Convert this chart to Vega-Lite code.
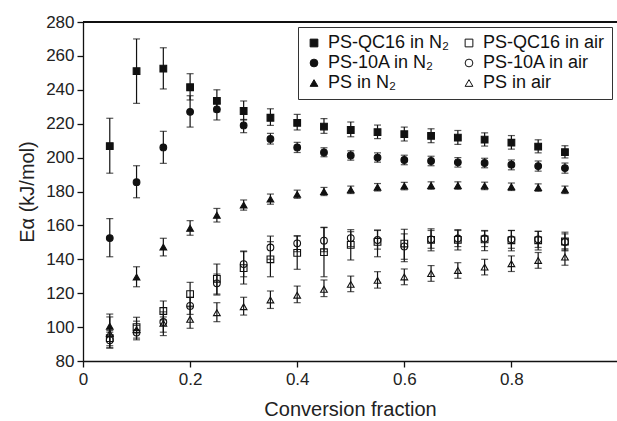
{
  "$schema": "https://vega.github.io/schema/vega-lite/v6.json",
  "width": 534,
  "height": 339,
  "autosize": {"type": "none"},
  "padding": {"left": 83, "top": 22, "right": 0, "bottom": 60},
  "background": "white",
  "config": {
    "font": "Liberation Sans",
    "view": {"stroke": null},
    "axis": {
      "domainColor": "#111", "domainWidth": 1.3, "tickColor": "#111", "tickWidth": 1.3, "tickSize": 6,
      "labelFontSize": 17, "labelColor": "#222", "titleFontSize": 20, "titleFontWeight": "normal", "titleColor": "#222", "grid": false,
      "labelOverlap": false, "labelFlush": false
    },
    "axisY": {"tickCount": 10, "labelPadding": 3, "titlePadding": 8},
    "axisX": {"tickCount": 5, "labelPadding": 4, "titlePadding": 12, "format": ".1~f"},
    "legend": {
      "labelFontSize": 18, "labelColor": "#111", "symbolSize": 60, "strokeColor": "#333", "padding": 7, "rowPadding": 2,
      "columnPadding": 10, "labelOffset": 5, "symbolStrokeWidth": 1, "gridAlign": "each"
    }
  },
  "data": {"values": [
    {"f":0.05,"s":"PS-QC16 in N₂","y":206.8,"lo":190.8,"hi":223.2},
    {"f":0.1,"s":"PS-QC16 in N₂","y":251,"lo":232,"hi":270},
    {"f":0.15,"s":"PS-QC16 in N₂","y":252.5,"lo":240.5,"hi":264.8},
    {"f":0.2,"s":"PS-QC16 in N₂","y":241.5,"lo":234,"hi":249.5},
    {"f":0.25,"s":"PS-QC16 in N₂","y":233.5,"lo":227,"hi":240},
    {"f":0.3,"s":"PS-QC16 in N₂","y":227.5,"lo":222.2,"hi":233.4},
    {"f":0.35,"s":"PS-QC16 in N₂","y":223.5,"lo":219,"hi":228.8},
    {"f":0.4,"s":"PS-QC16 in N₂","y":220.5,"lo":216.3,"hi":225.5},
    {"f":0.45,"s":"PS-QC16 in N₂","y":218.3,"lo":214.3,"hi":223},
    {"f":0.5,"s":"PS-QC16 in N₂","y":216.3,"lo":212.3,"hi":221},
    {"f":0.55,"s":"PS-QC16 in N₂","y":215,"lo":211.2,"hi":219.2},
    {"f":0.6,"s":"PS-QC16 in N₂","y":213.8,"lo":209.8,"hi":218},
    {"f":0.65,"s":"PS-QC16 in N₂","y":212.8,"lo":208.8,"hi":217},
    {"f":0.7,"s":"PS-QC16 in N₂","y":211.8,"lo":207.8,"hi":216},
    {"f":0.75,"s":"PS-QC16 in N₂","y":210.6,"lo":206.8,"hi":214.6},
    {"f":0.8,"s":"PS-QC16 in N₂","y":208.8,"lo":205,"hi":213},
    {"f":0.85,"s":"PS-QC16 in N₂","y":206.5,"lo":202.8,"hi":210.5},
    {"f":0.9,"s":"PS-QC16 in N₂","y":203.2,"lo":199.8,"hi":207},
    {"f":0.05,"s":"PS-10A in N₂","y":152.5,"lo":141.5,"hi":164},
    {"f":0.1,"s":"PS-10A in N₂","y":185.5,"lo":176.3,"hi":195.2},
    {"f":0.15,"s":"PS-10A in N₂","y":206,"lo":196.6,"hi":215.5},
    {"f":0.2,"s":"PS-10A in N₂","y":227,"lo":218,"hi":236.5},
    {"f":0.25,"s":"PS-10A in N₂","y":228.5,"lo":222.2,"hi":232},
    {"f":0.3,"s":"PS-10A in N₂","y":219,"lo":214.7,"hi":222.5},
    {"f":0.35,"s":"PS-10A in N₂","y":211,"lo":208,"hi":214.3},
    {"f":0.4,"s":"PS-10A in N₂","y":206,"lo":203,"hi":209},
    {"f":0.45,"s":"PS-10A in N₂","y":203,"lo":200.5,"hi":205.8},
    {"f":0.5,"s":"PS-10A in N₂","y":201.3,"lo":198.5,"hi":204},
    {"f":0.55,"s":"PS-10A in N₂","y":200,"lo":197.3,"hi":202.8},
    {"f":0.6,"s":"PS-10A in N₂","y":198.6,"lo":195.8,"hi":201.4},
    {"f":0.65,"s":"PS-10A in N₂","y":198,"lo":195.2,"hi":200.8},
    {"f":0.7,"s":"PS-10A in N₂","y":197.2,"lo":194.4,"hi":200},
    {"f":0.75,"s":"PS-10A in N₂","y":196.8,"lo":194,"hi":199.6},
    {"f":0.8,"s":"PS-10A in N₂","y":195.8,"lo":192.8,"hi":198.6},
    {"f":0.85,"s":"PS-10A in N₂","y":195,"lo":192,"hi":198},
    {"f":0.9,"s":"PS-10A in N₂","y":193.8,"lo":190.8,"hi":196.8},
    {"f":0.05,"s":"PS in N₂","y":100.5,"lo":95,"hi":106},
    {"f":0.1,"s":"PS in N₂","y":129.5,"lo":123.8,"hi":135.6},
    {"f":0.15,"s":"PS in N₂","y":147.2,"lo":142,"hi":152.4},
    {"f":0.2,"s":"PS in N₂","y":158.3,"lo":154.2,"hi":162.8},
    {"f":0.25,"s":"PS in N₂","y":166,"lo":162,"hi":170},
    {"f":0.3,"s":"PS in N₂","y":172,"lo":169,"hi":175},
    {"f":0.35,"s":"PS in N₂","y":175.5,"lo":172.5,"hi":178.5},
    {"f":0.4,"s":"PS in N₂","y":178.3,"lo":176,"hi":180.8},
    {"f":0.45,"s":"PS in N₂","y":180,"lo":177.6,"hi":182.4},
    {"f":0.5,"s":"PS in N₂","y":181,"lo":178.8,"hi":183.2},
    {"f":0.55,"s":"PS in N₂","y":182.5,"lo":180.3,"hi":184.7},
    {"f":0.6,"s":"PS in N₂","y":183.2,"lo":181,"hi":185.4},
    {"f":0.65,"s":"PS in N₂","y":183.5,"lo":181.3,"hi":185.7},
    {"f":0.7,"s":"PS in N₂","y":183.5,"lo":181.3,"hi":185.7},
    {"f":0.75,"s":"PS in N₂","y":183.3,"lo":181.1,"hi":185.5},
    {"f":0.8,"s":"PS in N₂","y":182.8,"lo":180.6,"hi":185},
    {"f":0.85,"s":"PS in N₂","y":182.3,"lo":180.1,"hi":184.5},
    {"f":0.9,"s":"PS in N₂","y":181,"lo":178.8,"hi":183.2},
    {"f":0.05,"s":"PS-QC16 in air","y":93.5,"lo":89,"hi":98},
    {"f":0.1,"s":"PS-QC16 in air","y":100,"lo":96.5,"hi":105.8},
    {"f":0.15,"s":"PS-QC16 in air","y":109.5,"lo":104.2,"hi":115.4},
    {"f":0.2,"s":"PS-QC16 in air","y":119.5,"lo":112,"hi":126.4},
    {"f":0.25,"s":"PS-QC16 in air","y":128.5,"lo":119.5,"hi":137.2},
    {"f":0.3,"s":"PS-QC16 in air","y":134.8,"lo":125.4,"hi":144.9},
    {"f":0.35,"s":"PS-QC16 in air","y":140,"lo":129.7,"hi":150.4},
    {"f":0.4,"s":"PS-QC16 in air","y":143.8,"lo":134.1,"hi":153.7},
    {"f":0.45,"s":"PS-QC16 in air","y":144.2,"lo":129.7,"hi":158.9},
    {"f":0.5,"s":"PS-QC16 in air","y":148.5,"lo":139.6,"hi":156.3},
    {"f":0.55,"s":"PS-QC16 in air","y":150.3,"lo":141.5,"hi":157.3},
    {"f":0.6,"s":"PS-QC16 in air","y":149.3,"lo":138.6,"hi":157.7},
    {"f":0.65,"s":"PS-QC16 in air","y":151.5,"lo":145,"hi":158},
    {"f":0.7,"s":"PS-QC16 in air","y":151.5,"lo":145.5,"hi":157.5},
    {"f":0.75,"s":"PS-QC16 in air","y":151.7,"lo":145.1,"hi":156.7},
    {"f":0.8,"s":"PS-QC16 in air","y":151.2,"lo":145,"hi":157},
    {"f":0.85,"s":"PS-QC16 in air","y":151.2,"lo":145.5,"hi":156.5},
    {"f":0.9,"s":"PS-QC16 in air","y":150.5,"lo":145,"hi":156},
    {"f":0.05,"s":"PS-10A in air","y":92.3,"lo":87.7,"hi":97},
    {"f":0.1,"s":"PS-10A in air","y":96.8,"lo":92.5,"hi":101},
    {"f":0.15,"s":"PS-10A in air","y":103,"lo":97,"hi":109},
    {"f":0.2,"s":"PS-10A in air","y":112.5,"lo":107.5,"hi":117.5},
    {"f":0.25,"s":"PS-10A in air","y":125.8,"lo":118.9,"hi":131.3},
    {"f":0.3,"s":"PS-10A in air","y":137.2,"lo":129.7,"hi":144.5},
    {"f":0.35,"s":"PS-10A in air","y":147,"lo":140,"hi":153.7},
    {"f":0.4,"s":"PS-10A in air","y":149.4,"lo":144.5,"hi":153.9},
    {"f":0.45,"s":"PS-10A in air","y":151,"lo":144.5,"hi":158.7},
    {"f":0.5,"s":"PS-10A in air","y":152.5,"lo":147.5,"hi":157.5},
    {"f":0.55,"s":"PS-10A in air","y":151.4,"lo":146,"hi":157},
    {"f":0.6,"s":"PS-10A in air","y":147.6,"lo":140,"hi":155},
    {"f":0.65,"s":"PS-10A in air","y":151.8,"lo":146.5,"hi":157},
    {"f":0.7,"s":"PS-10A in air","y":152.3,"lo":147.5,"hi":157},
    {"f":0.75,"s":"PS-10A in air","y":152.3,"lo":147.5,"hi":157},
    {"f":0.8,"s":"PS-10A in air","y":151.8,"lo":146.5,"hi":157},
    {"f":0.85,"s":"PS-10A in air","y":151.8,"lo":147,"hi":156.5},
    {"f":0.9,"s":"PS-10A in air","y":150.2,"lo":145.5,"hi":155},
    {"f":0.05,"s":"PS in air","y":96.2,"lo":87.7,"hi":107.7},
    {"f":0.1,"s":"PS in air","y":98.5,"lo":93.5,"hi":103.5},
    {"f":0.15,"s":"PS in air","y":102.2,"lo":95,"hi":106},
    {"f":0.2,"s":"PS in air","y":104.6,"lo":99.3,"hi":112.4},
    {"f":0.25,"s":"PS in air","y":108.5,"lo":103.2,"hi":114.4},
    {"f":0.3,"s":"PS in air","y":112,"lo":107.1,"hi":117.6},
    {"f":0.35,"s":"PS in air","y":116,"lo":111,"hi":121.3},
    {"f":0.4,"s":"PS in air","y":118.8,"lo":114.4,"hi":124.2},
    {"f":0.45,"s":"PS in air","y":122.3,"lo":118,"hi":127.8},
    {"f":0.5,"s":"PS in air","y":125.2,"lo":120.9,"hi":130.1},
    {"f":0.55,"s":"PS in air","y":127.6,"lo":123,"hi":132.7},
    {"f":0.6,"s":"PS in air","y":129.6,"lo":125,"hi":134.3},
    {"f":0.65,"s":"PS in air","y":131.6,"lo":127,"hi":136.3},
    {"f":0.7,"s":"PS in air","y":133.4,"lo":128.8,"hi":138},
    {"f":0.75,"s":"PS in air","y":135.4,"lo":130.8,"hi":140},
    {"f":0.8,"s":"PS in air","y":137.4,"lo":132.8,"hi":142},
    {"f":0.85,"s":"PS in air","y":139.3,"lo":134.7,"hi":144},
    {"f":0.9,"s":"PS in air","y":141.3,"lo":136.5,"hi":146.2}
  ]},
  "layer": [
    {
      "mark": {"type": "rule", "color": "#111", "strokeWidth": 1.3},
      "encoding": {
        "y": {"datum": 280, "type": "quantitative", "scale": {"domain": [80, 280], "nice": false, "zero": false},
              "title": "Eα (kJ/mol)"}
      }
    },
    {
      "mark": {"type": "errorbar", "color": "#111", "thickness": 1.2, "ticks": {"size": 7}},
      "encoding": {
        "x": {"field": "f", "type": "quantitative", "scale": {"domain": [0, 0.9972], "nice": false, "zero": false},
              "title": "Conversion fraction"},
        "y": {"field": "lo", "type": "quantitative", "scale": {"domain": [80, 280], "nice": false, "zero": false},
              "title": "Eα (kJ/mol)"},
        "y2": {"field": "hi"}
      }
    },
    {
      "mark": {"type": "point", "strokeWidth": 1.1, "opacity": 1, "size": 45},
      "encoding": {
        "x": {"field": "f", "type": "quantitative", "title": "Conversion fraction"},
        "y": {"field": "y", "type": "quantitative", "title": "Eα (kJ/mol)"},
        "shape": {"field": "s", "type": "nominal",
          "scale": {"domain": ["PS-QC16 in N₂", "PS-10A in N₂", "PS in N₂", "PS-QC16 in air", "PS-10A in air", "PS in air"],
                    "range": ["square", "circle", "triangle-up", "square", "circle", "triangle-up"]},
          "legend": {"title": null, "orient": "none", "legendX": 215, "legendY": 5, "columns": 2}},
        "fill": {"field": "s", "type": "nominal",
          "scale": {"domain": ["PS-QC16 in N₂", "PS-10A in N₂", "PS in N₂", "PS-QC16 in air", "PS-10A in air", "PS in air"],
                    "range": ["#111", "#111", "#111", "transparent", "transparent", "transparent"]},
          "legend": {"title": null, "orient": "none", "legendX": 215, "legendY": 5, "columns": 2}},
        "stroke": {"field": "s", "type": "nominal",
          "scale": {"domain": ["PS-QC16 in N₂", "PS-10A in N₂", "PS in N₂", "PS-QC16 in air", "PS-10A in air", "PS in air"],
                    "range": ["#111", "#111", "#111", "#111", "#111", "#111"]},
          "legend": {"title": null, "orient": "none", "legendX": 215, "legendY": 5, "columns": 2}}
      }
    }
  ]
}
